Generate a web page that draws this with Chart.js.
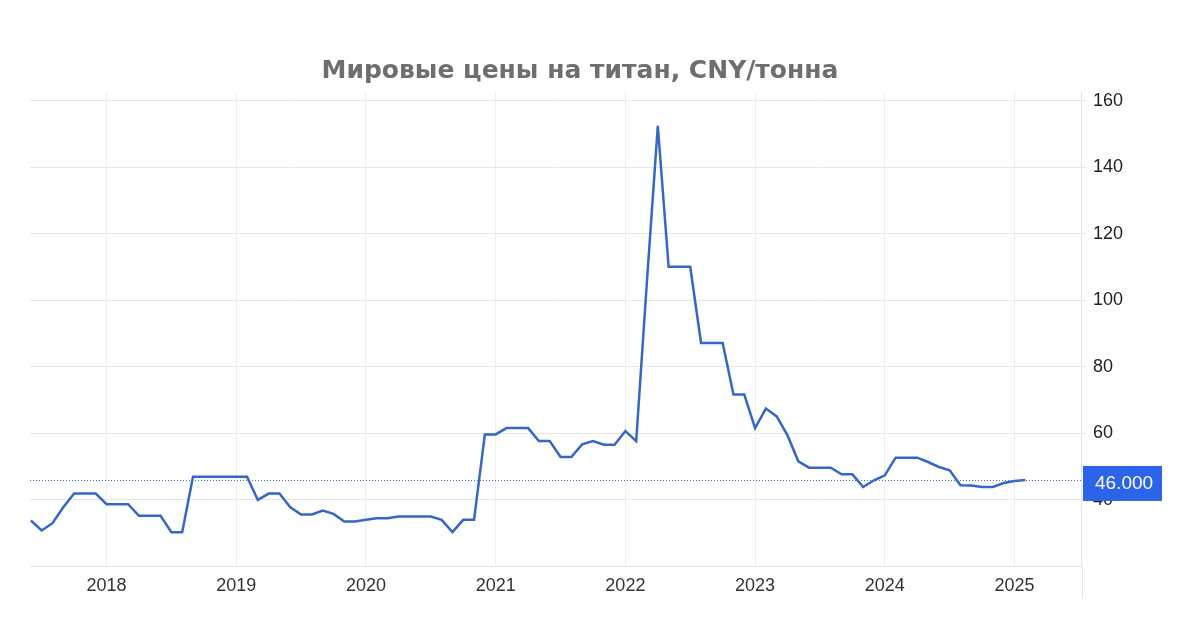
<!DOCTYPE html>
<html lang="ru">

<head>
    <meta charset="UTF-8">
    <meta name="viewport" content="width=device-width, initial-scale=1.0">
    <script src="https://cdn.jsdelivr.net/npm/chart.js"></script>
    <title>Мировые цены на титан</title>
    <style>
        html, body { margin: 0; padding: 0; background: #fff; }
        .container { width: 1200px; height: 628px; }
    </style>
</head>

<body>
    <div class="container">
        <canvas id="myChart" width="1200" height="628"></canvas>
    </div>
    <script>
        // месяцы (с июня 2017 по февраль 2025)
        const months = [
            '2017-06', '2017-07', '2017-08', '2017-09', '2017-10', '2017-11', '2017-12',
            '2018-01', '2018-02', '2018-03', '2018-04', '2018-05', '2018-06', '2018-07', '2018-08', '2018-09', '2018-10', '2018-11', '2018-12',
            '2019-01', '2019-02', '2019-03', '2019-04', '2019-05', '2019-06', '2019-07', '2019-08', '2019-09', '2019-10', '2019-11', '2019-12',
            '2020-01', '2020-02', '2020-03', '2020-04', '2020-05', '2020-06', '2020-07', '2020-08', '2020-09', '2020-10', '2020-11', '2020-12',
            '2021-01', '2021-02', '2021-03', '2021-04', '2021-05', '2021-06', '2021-07', '2021-08', '2021-09', '2021-10', '2021-11', '2021-12',
            '2022-01', '2022-02', '2022-03', '2022-04', '2022-05', '2022-06', '2022-07', '2022-08', '2022-09', '2022-10', '2022-11', '2022-12',
            '2023-01', '2023-02', '2023-03', '2023-04', '2023-05', '2023-06', '2023-07', '2023-08', '2023-09', '2023-10', '2023-11', '2023-12',
            '2024-01', '2024-02', '2024-03', '2024-04', '2024-05', '2024-06', '2024-07', '2024-08', '2024-09', '2024-10', '2024-11', '2024-12',
            '2025-01', '2025-02'
        ];
        // цена, CNY/тонна
        const prices = [
            33.8, 30.8, 33.0, 37.8, 41.9, 41.9, 41.9,
            38.7, 38.7, 38.7, 35.2, 35.2, 35.2, 30.3, 30.3, 47.0, 47.0, 47.0, 47.0,
            47.0, 47.0, 40.0, 41.9, 41.9, 37.8, 35.6, 35.6, 36.8, 35.8, 33.5, 33.5,
            34.0, 34.5, 34.5, 35.0, 35.0, 35.0, 35.0, 34.0, 30.3, 34.0, 34.0, 59.7,
            59.7, 61.6, 61.6, 61.6, 57.7, 57.7, 52.9, 52.9, 56.7, 57.7, 56.6, 56.6,
            60.7, 57.7, 106.0, 152.5, 110.1, 110.1, 110.1, 87.2, 87.2, 87.2, 71.7, 71.7,
            61.6, 67.5, 65.1, 59.4, 51.6, 49.7, 49.7, 49.7, 47.7, 47.7, 43.9, 45.9,
            47.4, 52.7, 52.7, 52.7, 51.4, 49.9, 48.9, 44.4, 44.3, 43.9, 43.9, 45.1,
            45.7, 46.0
        ];
        const yearTicks = [2018, 2019, 2020, 2021, 2022, 2023, 2024, 2025];
        const priceTicks = [40, 60, 80, 100, 120, 140, 160];

        // месяц -> дробный год
        function fn_to_year(m) {
            let p = m.split('-');
            return parseInt(p[0]) + (parseInt(p[1]) - 1) / 12;
        }
        let points = [];
        months.forEach(function (m, i) {
            points.push({ x: fn_to_year(m), y: prices[i] });
        });
        const lastValue = prices[prices.length - 1];

        // пунктир последнего значения, метка справа и правая рамка
        const lastPricePlugin = {
            id: 'lastPrice',
            afterDraw(chart) {
                const ctx = chart.ctx;
                const area = chart.chartArea;
                const y = chart.scales.y.getPixelForValue(lastValue);
                ctx.save();
                // правая линия, уходит ниже оси
                ctx.strokeStyle = '#e4e4e4';
                ctx.lineWidth = 1;
                ctx.beginPath();
                ctx.moveTo(area.right + 0.5, area.bottom);
                ctx.lineTo(area.right + 0.5, 598);
                ctx.stroke();
                // пунктир
                ctx.strokeStyle = '#4a70b8';
                ctx.setLineDash([1, 2]);
                ctx.beginPath();
                ctx.moveTo(area.left, Math.round(y) + 0.5);
                ctx.lineTo(area.right, Math.round(y) + 0.5);
                ctx.stroke();
                ctx.setLineDash([]);
                // метка
                ctx.fillStyle = '#2b64e8';
                ctx.fillRect(area.right + 1, y - 14, 79, 35);
                ctx.fillStyle = '#ffffff';
                ctx.font = '19px "Liberation Sans", Arial, sans-serif';
                ctx.textAlign = 'left';
                ctx.textBaseline = 'middle';
                ctx.fillText(lastValue.toFixed(3), area.right + 13, y + 4);
                ctx.restore();
            }
        };

        const ctx = document.getElementById('myChart');
        let config = {
            type: 'line',
            data: {
                datasets: [{
                    label: 'Титан',
                    data: points,
                    borderColor: '#3566c8',
                    borderWidth: 2.5,
                    pointRadius: 0,
                    tension: 0,
                    fill: false
                }]
            },
            options: {
                responsive: false,
                animation: false,
                layout: {
                    padding: { left: 30, right: 70, top: 0, bottom: 22 }
                },
                scales: {
                    x: {
                        type: 'linear',
                        min: 2017.41,
                        max: 2025.52,
                        afterBuildTicks: function (axis) {
                            axis.ticks = yearTicks.map(function (v) { return { value: v }; });
                        },
                        ticks: {
                            callback: function (v) { return String(v); },
                            color: '#333333',
                            font: { family: '"Liberation Sans", Arial, sans-serif', size: 18 },
                            padding: 9,
                            maxRotation: 0
                        },
                        grid: {
                            color: '#eeeeee',
                            drawTicks: false
                        },
                        border: { display: true, color: '#e4e4e4' }
                    },
                    y: {
                        position: 'right',
                        min: 20,
                        max: 162.7,
                        afterBuildTicks: function (axis) {
                            axis.ticks = priceTicks.map(function (v) { return { value: v }; });
                        },
                        ticks: {
                            color: '#222222',
                            font: { family: '"Liberation Sans", Arial, sans-serif', size: 18 },
                            padding: 7
                        },
                        grid: {
                            color: '#e6e6e6',
                            tickLength: 4
                        },
                        border: { display: true, color: '#e4e4e4' }
                    }
                },
                plugins: {
                    title: {
                        display: true,
                        text: 'Мировые цены на титан, CNY/тонна',
                        color: '#6e6e6e',
                        font: { family: '"Comic Sans MS", "DejaVu Sans", sans-serif', size: 25, weight: 'bold' },
                        padding: { top: 56, bottom: 6 }
                    },
                    legend: { display: false },
                    tooltip: { enabled: false }
                }
            },
            plugins: [lastPricePlugin]
        };
        let myChart = new Chart(ctx, config);
    </script>
</body>

</html>
